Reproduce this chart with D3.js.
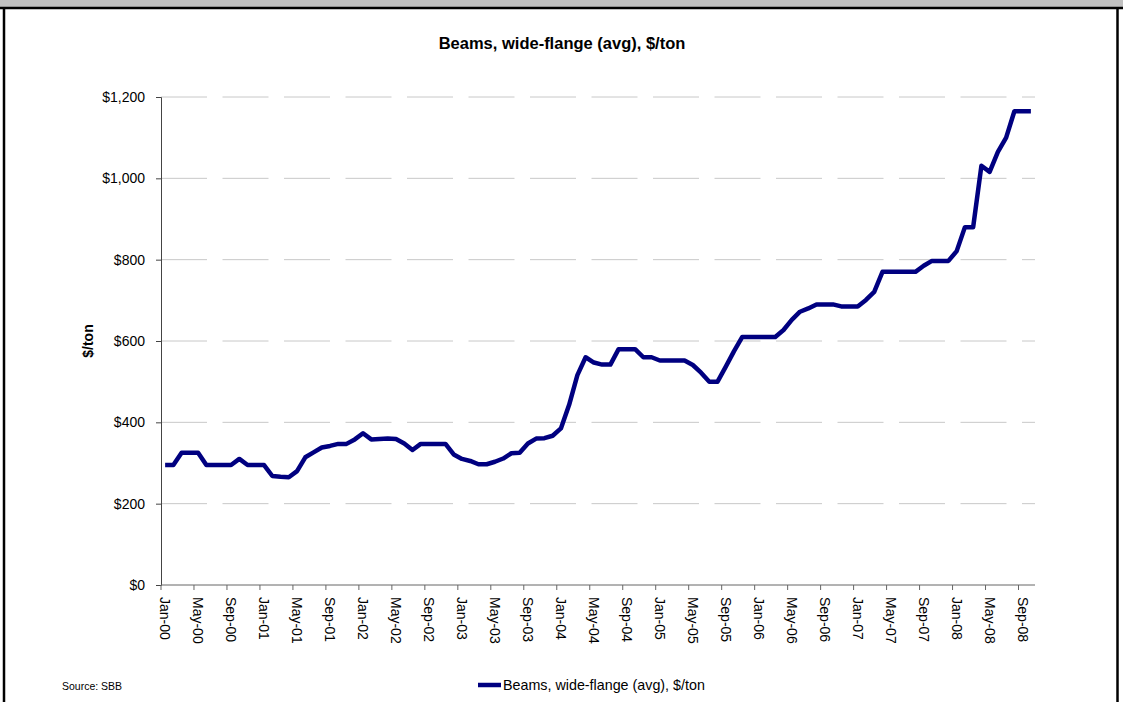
<!DOCTYPE html>
<html><head><meta charset="utf-8">
<script src="https://cdn.jsdelivr.net/npm/d3@7/dist/d3.min.js"></script>
<style>
body{margin:0;background:#fff;}
svg{display:block;font-family:"Liberation Sans",Arial,sans-serif;}
</style></head>
<body><svg id="c" width="1123" height="702"></svg>
<script>
const title = "Beams, wide-flange (avg), $/ton";
const yAxisTitle = "$/ton";
const source = "Source: SBB";
const monthNames = ["Jan","Feb","Mar","Apr","May","Jun","Jul","Aug","Sep","Oct","Nov","Dec"];
const years = ["00","01","02","03","04","05","06","07","08"];
// months Jan-00 .. Oct-08
const months = [];
years.forEach(y => monthNames.forEach(m => months.push(m + "-" + y)));
months.splice(106);
const values = [
  295,295,325,325,325,295,295,295,295,310,295,295,
  295,268,266,265,280,314,326,338,342,347,347,358,
  373,358,359,360,359,348,332,347,347,347,347,321,
  310,305,297,297,303,311,324,325,348,360,361,367,
  385,443,516,560,547,542,542,580,580,580,560,560,
  552,552,552,552,541,522,500,500,537,575,610,610,
  610,610,610,627,652,672,680,690,690,690,685,685,
  685,701,721,770,770,770,770,770,785,797,797,797,
  821,880,880,1031,1016,1065,1100,1165,1165,1165
];
const yTicks = [0,200,400,600,800,1000,1200];
const fmt = v => "$" + d3.format(",")(v);

const svg = d3.select("#c");
// frame
svg.append("rect").attr("x",0).attr("y",0).attr("width",1123).attr("height",7).attr("fill","#c0c0c0");
svg.append("line").attr("x1",0).attr("x2",1123).attr("y1",8).attr("y2",8).attr("stroke","#000").attr("stroke-width",2.5);
svg.append("line").attr("x1",4).attr("x2",4).attr("y1",7).attr("y2",702).attr("stroke","#000").attr("stroke-width",2.5);
svg.append("line").attr("x1",1117.5).attr("x2",1117.5).attr("y1",7).attr("y2",702).attr("stroke","#000").attr("stroke-width",2.5);

const L = 161, R = 1035, T = 97, B = 585;
const x = d3.scaleBand().domain(months).range([L,R]).padding(0);
const y = d3.scaleLinear().domain([0,1200]).range([B,T]);

// grid
svg.append("g").selectAll("line").data(yTicks.filter(d=>d>0)).join("line")
  .attr("x1",L).attr("x2",R).attr("y1",d=>y(d)).attr("y2",d=>y(d))
  .attr("stroke","#c8c8c8").attr("stroke-width",1).attr("stroke-dasharray","46,15.5");

// y axis
const ya = svg.append("g").attr("transform",`translate(${L},0)`)
  .call(d3.axisLeft(y).tickValues(yTicks).tickFormat(fmt).tickSize(5).tickPadding(11));
ya.select(".domain").attr("stroke","#444");
ya.selectAll(".tick line").attr("stroke","#444");
ya.selectAll(".tick text").attr("font-size",14).attr("fill","#000").attr("font-family","Liberation Sans, Arial, sans-serif");

// x axis
const tickIdx = d3.range(0, months.length, 4);
const xa = svg.append("g").attr("transform",`translate(0,${B})`);
xa.append("line").attr("x1",L).attr("x2",R).attr("y1",0).attr("y2",0).attr("stroke","#666");
xa.selectAll("line.t").data(tickIdx).join("line").attr("class","t")
  .attr("x1",i=>x(months[i])).attr("x2",i=>x(months[i])).attr("y1",0).attr("y2",5).attr("stroke","#666");
xa.selectAll("text").data(tickIdx).join("text")
  .attr("transform",i=>`translate(${x(months[i])+x.bandwidth()/2},12) rotate(90)`)
  .attr("dy","0.35em").attr("font-size",14).attr("fill","#000")
  .text(i=>months[i]);

// line
const line = d3.line().x((d,i)=>x(months[i])+x.bandwidth()/2).y(d=>y(d));
svg.append("path").datum(values).attr("d",line).attr("fill","none")
  .attr("stroke","#000080").attr("stroke-width",4.5).attr("stroke-linejoin","round").attr("stroke-linecap","butt");

// titles
svg.append("text").attr("x",562).attr("y",49).attr("text-anchor","middle")
  .attr("font-size",16.5).attr("font-weight","bold").text(title);
svg.append("text").attr("transform","translate(93,341) rotate(-90)").attr("text-anchor","middle")
  .attr("font-size",14).attr("font-weight","bold").text(yAxisTitle);

// source & legend
svg.append("text").attr("x",62).attr("y",690).attr("font-size",10.5).text(source);
svg.append("line").attr("x1",478).attr("x2",501).attr("y1",685).attr("y2",685).attr("stroke","#000080").attr("stroke-width",4.5);
svg.append("text").attr("x",503).attr("y",690).attr("font-size",14.3).text(title);
</script></body></html>
